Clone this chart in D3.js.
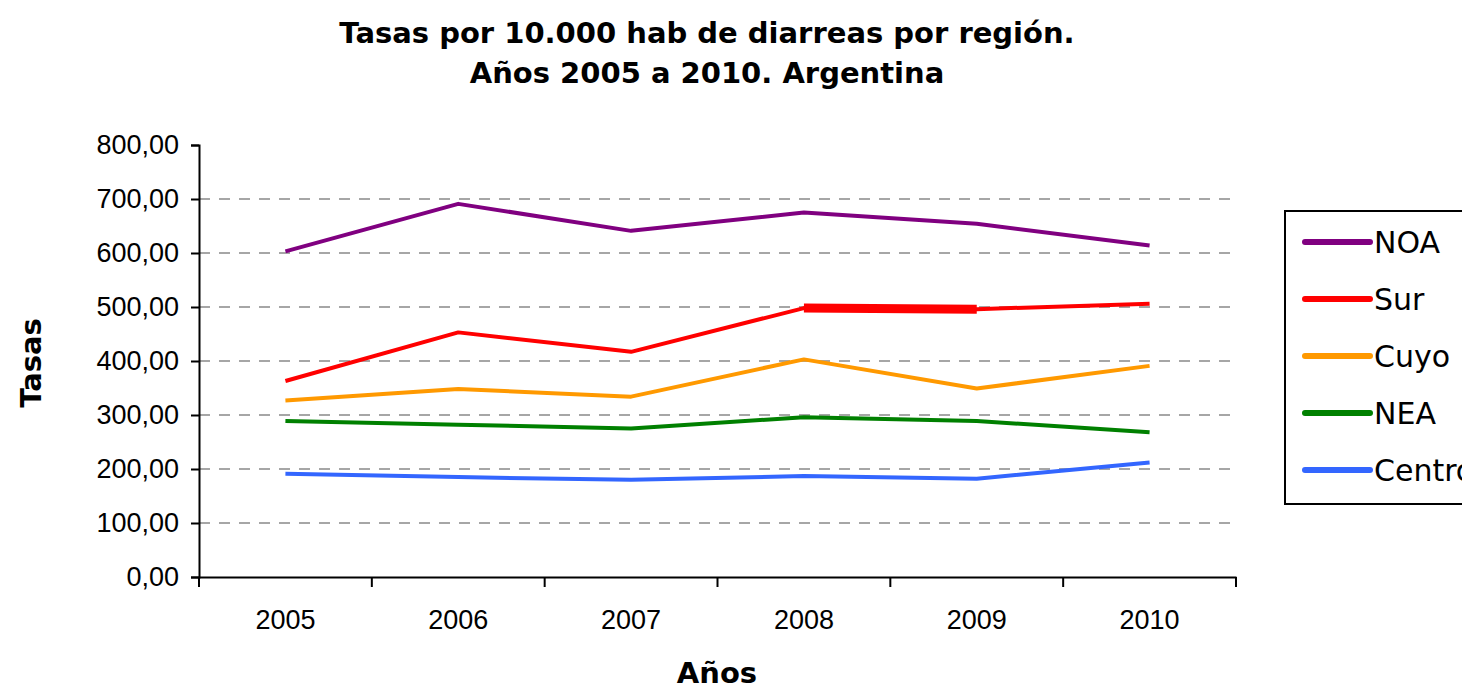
<!DOCTYPE html>
<html>
<head>
<meta charset="utf-8">
<script src="https://cdn.jsdelivr.net/npm/d3@7"></script>
<style>
  body { margin: 0; background: #fff; }
  svg { display: block; font-family: "DejaVu Sans", Verdana, sans-serif; }
</style>
</head>
<body>
<div id="chart"></div>
<script>
// data
var years = ["2005", "2006", "2007", "2008", "2009", "2010"];
var noa = [603, 691, 641, 675, 654, 614];
var sur = [363, 453, 417, 498, 496, 506];
var cuyo = [327, 348, 334, 403, 349, 391];
var nea = [289, 282, 275, 296, 289, 268];
var centro = [191, 185, 180, 187, 182, 212];
var regions = ["NOA", "Sur", "Cuyo", "NEA", "Centro"];
var colors = ["#800080", "#ff0000", "#ff9900", "#008000", "#3366ff"];
var yTicks = [0, 100, 200, 300, 400, 500, 600, 700, 800];

var series = [noa, sur, cuyo, nea, centro].map(function (v, i) {
  return { name: regions[i], color: colors[i], values: v };
});

var width = 1462, height = 691;
var plot = { left: 199, right: 1236, top: 145, bottom: 577 };

var svg = d3.select("#chart").append("svg")
  .attr("width", width)
  .attr("height", height);

var x = d3.scaleBand().domain(years).range([plot.left, plot.right]).padding(0);
var y = d3.scaleLinear().domain([0, 800]).range([plot.bottom, plot.top]);

// title
svg.append("text")
  .attr("x", 707).attr("y", 43)
  .attr("text-anchor", "middle")
  .style("font-size", "29px").attr("font-weight", "bold")
  .text("Tasas por 10.000 hab de diarreas por región.");
svg.append("text")
  .attr("x", 707).attr("y", 83)
  .attr("text-anchor", "middle")
  .style("font-size", "29px").attr("font-weight", "bold")
  .text("Años 2005 a 2010. Argentina");

// gridlines
svg.append("g")
  .selectAll("line")
  .data(yTicks.filter(function (d) { return d > 0 && d < 800; }))
  .join("line")
  .attr("x1", plot.left).attr("x2", plot.right)
  .attr("y1", function (d) { return y(d); })
  .attr("y2", function (d) { return y(d); })
  .attr("stroke", "#a6a6a6")
  .attr("stroke-width", 2)
  .attr("stroke-dasharray", "11,9");

// y axis
var yAxis = svg.append("g")
  .attr("transform", "translate(" + plot.left + ",0)")
  .call(d3.axisLeft(y).tickValues(yTicks).tickSize(8).tickPadding(12)
    .tickFormat(function (d) { return d.toFixed(2).replace(".", ","); }));
yAxis.select(".domain").attr("stroke-width", 2);
yAxis.selectAll(".tick line").attr("stroke-width", 2);
yAxis.selectAll("text").style("font-size", "27px").attr("fill", "#000");

// x axis
var xAxis = svg.append("g")
  .attr("transform", "translate(0," + plot.bottom + ")")
  .call(d3.axisBottom(x).tickSize(0).tickPadding(33));
xAxis.select(".domain").attr("stroke-width", 2);
xAxis.selectAll("text").style("font-size", "27px").attr("fill", "#000");
// boundary ticks between categories
xAxis.selectAll(".sep")
  .data(years.concat(["end"]))
  .join("line")
  .attr("class", "sep")
  .attr("x1", function (d, i) { return i < years.length ? x(d) : x.range()[1]; })
  .attr("x2", function (d, i) { return i < years.length ? x(d) : x.range()[1]; })
  .attr("y1", 0).attr("y2", 10)
  .attr("stroke", "#000").attr("stroke-width", 2);

// axis titles
svg.append("text")
  .attr("x", 717).attr("y", 683)
  .attr("text-anchor", "middle")
  .style("font-size", "29px").attr("font-weight", "bold")
  .text("Años");
svg.append("text")
  .attr("transform", "translate(41,363) rotate(-90)")
  .attr("text-anchor", "middle")
  .style("font-size", "29px").attr("font-weight", "bold")
  .text("Tasas");

// lines
var line = d3.line()
  .x(function (d, i) { return x(years[i]) + x.bandwidth() / 2; })
  .y(function (d) { return y(d); });

svg.append("g")
  .selectAll("path")
  .data(series)
  .join("path")
  .attr("fill", "none")
  .attr("stroke", function (d) { return d.color; })
  .attr("stroke-width", 4)
  .attr("stroke-linejoin", "round")
  .attr("d", function (d) { return line(d.values); });

// thicker Sur segment 2008-2009 as in the reference
var xs = function (i) { return x(years[i]) + x.bandwidth() / 2; };
svg.append("line")
  .attr("x1", xs(3)).attr("x2", xs(4))
  .attr("y1", y(sur[3])).attr("y2", y(sur[4]))
  .attr("stroke", "#ff0000").attr("stroke-width", 9);

// legend
var legend = svg.append("g");
legend.append("rect")
  .attr("x", 1285).attr("y", 211)
  .attr("width", 200).attr("height", 293)
  .attr("fill", "#fff").attr("stroke", "#000").attr("stroke-width", 2);
var items = legend.selectAll(".item")
  .data(series)
  .join("g")
  .attr("class", "item")
  .attr("transform", function (d, i) { return "translate(0," + (242 + i * 57) + ")"; });
items.append("line")
  .attr("x1", 1305).attr("x2", 1370)
  .attr("stroke", function (d) { return d.color; })
  .attr("stroke-width", 6)
  .attr("stroke-linecap", "round");
items.append("text")
  .attr("x", 1374).attr("y", 11)
  .style("font-size", "30px")
  .text(function (d) { return d.name; });
</script>
</body>
</html>
